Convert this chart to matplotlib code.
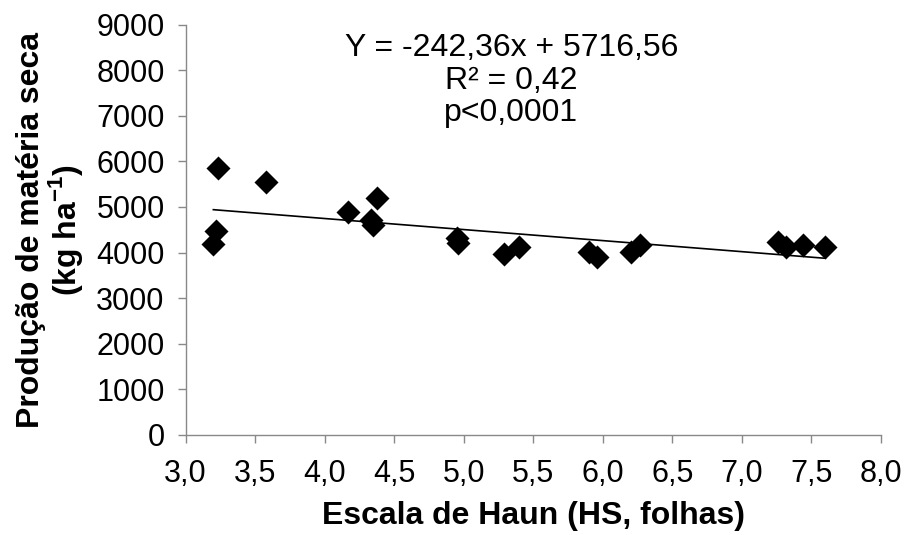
import matplotlib
matplotlib.use("Agg")
import matplotlib.pyplot as plt
from matplotlib.ticker import FuncFormatter, MultipleLocator

plt.rcParams['font.family'] = ['Liberation Sans', 'DejaVu Sans']
plt.rcParams['mathtext.fontset'] = 'custom'
plt.rcParams['mathtext.rm'] = 'Liberation Sans'
plt.rcParams['mathtext.bf'] = 'Liberation Sans:bold'

# Haun stage (leaves) vs dry matter production (kg/ha)
hs = [3.23, 3.58, 3.22, 3.20, 4.17, 4.38, 4.33, 4.35,
      4.95, 4.96, 5.29, 5.40, 5.90, 5.96, 6.20, 6.27,
      7.26, 7.32, 7.44, 7.60]
dm = [5860, 5540, 4480, 4190, 4900, 5190, 4715, 4605,
      4310, 4205, 3965, 4115, 4020, 3910, 4005, 4165,
      4240, 4130, 4165, 4130]

slope = -242.36
intercept = 5716.56
eq_lines = ["Y = -242,36x + 5716,56", "R² = 0,42", "p<0,0001"]

fig = plt.figure(figsize=(9.05, 5.35), dpi=100)
ax = fig.add_axes([0.205, 0.187, 0.7685, 0.767])

ax.scatter(hs, dm, marker='D', s=150, color='black', zorder=3, linewidths=0)

x0, x1 = min(hs), max(hs)
ax.plot([x0, x1], [slope * x0 + intercept, slope * x1 + intercept],
        color='black', lw=1.2, zorder=2)

ax.set_xlim(3.0, 8.0)
ax.set_ylim(0, 9000)
ax.xaxis.set_major_locator(MultipleLocator(0.5))
ax.yaxis.set_major_locator(MultipleLocator(1000))
ax.xaxis.set_major_formatter(FuncFormatter(lambda v, p: f"{v:.1f}".replace('.', ',')))
ax.yaxis.set_major_formatter(FuncFormatter(lambda v, p: f"{v:.0f}"))

for s in ['top', 'right']:
    ax.spines[s].set_visible(False)
for s in ['left', 'bottom']:
    ax.spines[s].set_color('#898989')
    ax.spines[s].set_linewidth(1.0)
ax.tick_params(axis='both', direction='out', length=6, width=1.0,
               color='#898989', labelsize=22, pad=9)
ax.tick_params(axis='x', pad=11)

ax.set_xlabel("Escala de Haun (HS, folhas)", fontsize=23, fontweight='bold', labelpad=9)
ax.set_ylabel("Produção de matéria seca\n(kg ha$^{\\mathbf{-1}}$)", fontsize=23,
              fontweight='bold', labelpad=8, linespacing=1.0)

fig.text(0.565, 0.849, "\n".join(eq_lines), ha='center', va='center',
         fontsize=23, linespacing=1.1)

fig.savefig("out.png", dpi=100)
